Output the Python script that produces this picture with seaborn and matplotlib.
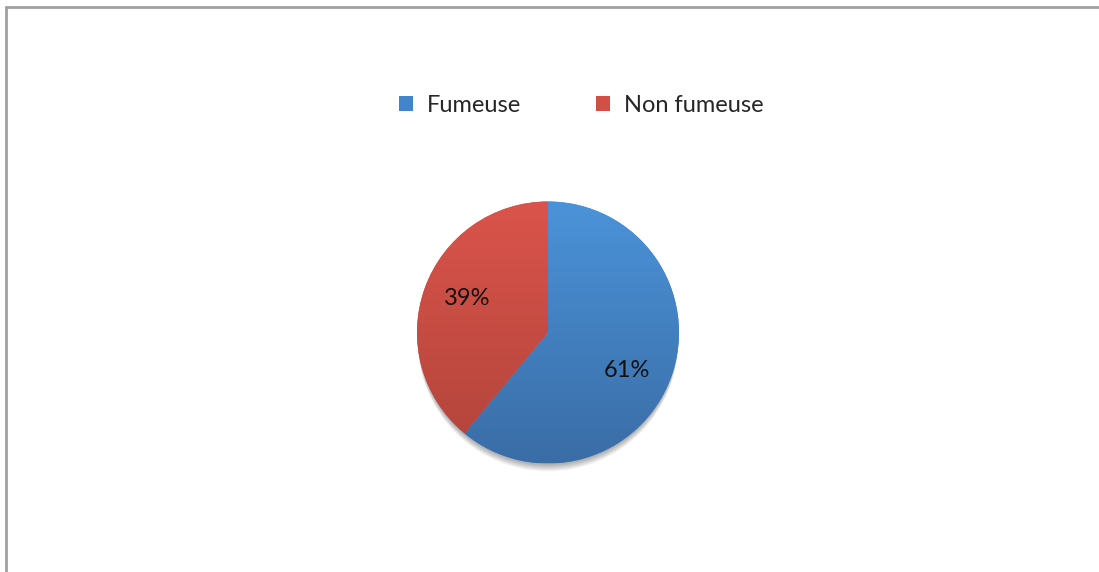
import numpy as np
import matplotlib
matplotlib.use("Agg")
import matplotlib.pyplot as plt
from matplotlib.colors import LinearSegmentedColormap
from matplotlib.patches import Circle, Rectangle
from matplotlib.lines import Line2D
import seaborn as sns

# Data
categories = ["Fumeuse", "Non fumeuse"]
shares = [61, 39]

sns.set_theme(style="white")
plt.rcParams["font.family"] = ["Lato", "DejaVu Sans"]

# Top/bottom colours for each wedge's vertical gradient
palette_top = ["#4B93D9", "#DA544B"]
palette_bottom = ["#3A6DA6", "#B1443A"]

W, H = 1099, 572
fig = plt.figure(figsize=(W / 100, H / 100), dpi=100)
fig.patch.set_facecolor("white")

# Thin grey frame along the top and left edges
fig.add_artist(Line2D([6 / W, 6 / W], [0, 1 - 7 / H], transform=fig.transFigure,
                      color="#a0a0a0", lw=2.0))
fig.add_artist(Line2D([6 / W, 1], [1 - 7 / H, 1 - 7 / H], transform=fig.transFigure,
                      color="#a0a0a0", lw=2.0))

# Pie axes: centre (548, 333), radius 131 px
cx, cy, r = 548, 332.5, 131
pad = 1.15
ax = fig.add_axes([(cx - r * pad) / W, (H - cy - r * pad) / H,
                   2 * r * pad / W, 2 * r * pad / H])
ax.set_xlim(-pad, pad)
ax.set_ylim(-pad, pad)
ax.set_aspect("equal")
ax.axis("off")

# Soft shadow peeking out below the pie
for i in range(10):
    ax.add_patch(Circle((0, -0.012 - 0.006 * i), 0.995, color="black", alpha=0.035,
                        lw=0, zorder=0))

wedges, texts, autotexts = ax.pie(
    shares, startangle=90, counterclock=False, radius=1.0,
    colors=palette_top, autopct="%d%%", pctdistance=0.67,
    wedgeprops=dict(linewidth=0),
    textprops=dict(fontsize=17, color="#111111"),
)
for w in wedges:
    w.set_zorder(1)

# Vertical gradient fill clipped to each wedge
grad = np.linspace(0, 1, 256).reshape(-1, 1)
for w, top, bot in zip(wedges, palette_top, palette_bottom):
    cmap = LinearSegmentedColormap.from_list("g", [bot, top])
    im = ax.imshow(grad, cmap=cmap, extent=(-1, 1, -1, 1), origin="lower",
                   aspect="auto", zorder=2)
    im.set_clip_path(w)

# Percentage label placement inside each wedge
label_pos = [(0.605, -0.29), (-0.62, 0.26)]
for t, (x, y) in zip(autotexts, label_pos):
    t.set_position((x, y))
    t.set_zorder(3)

ax.set_xlim(-pad, pad)
ax.set_ylim(-pad, pad)

# Legend
handles = [Rectangle((0, 0), 1, 1, facecolor=c, edgecolor="none")
           for c in ["#4285CC", "#D24F45"]]
fig.legend(handles, categories, loc="center", bbox_to_anchor=(581 / W, 1 - 105 / H),
           ncol=2, frameon=False, fontsize=17, handlelength=0.6, handleheight=0.6,
           handletextpad=0.6, columnspacing=3.15)

fig.savefig("out.png", dpi=100, facecolor="white")
